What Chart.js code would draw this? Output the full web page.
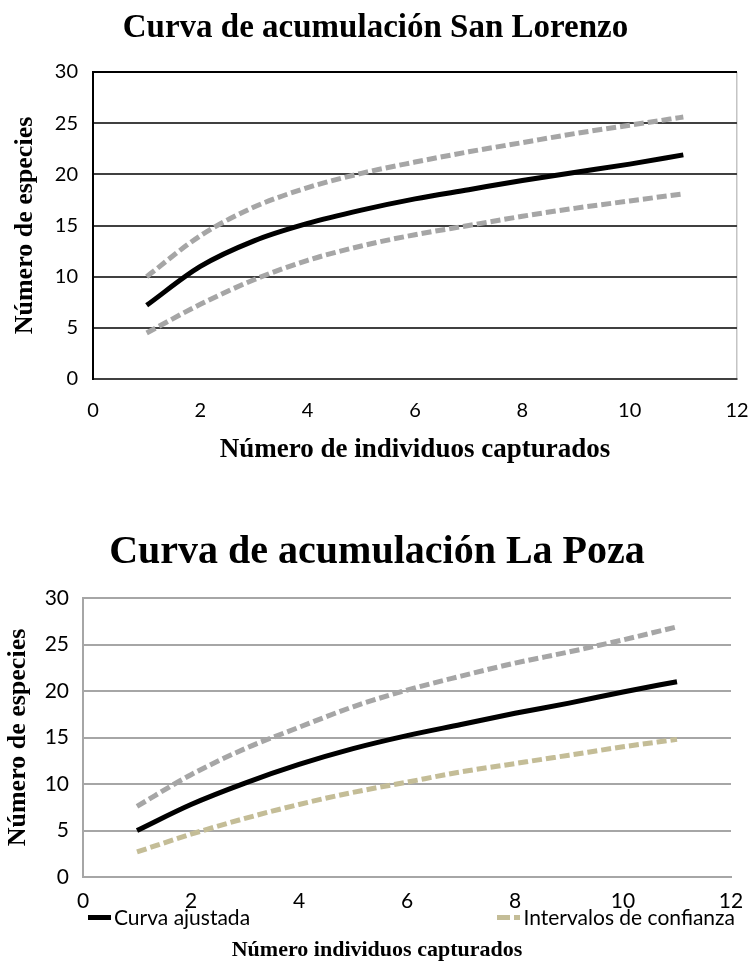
<!DOCTYPE html>
<html lang="es">
<head>
<meta charset="utf-8">
<title>Curvas de acumulación</title>
<script src="https://cdn.jsdelivr.net/npm/chart.js@4.4.1/dist/chart.umd.min.js"></script>
<style>
  body { margin: 0; background: #fff; }
  .page { position: relative; width: 752px; height: 967px; background: #fff; }
  canvas { display: block; }
  #leyenda { position: absolute; left: 88px; top: 904px; width: 647px; display: flex; justify-content: space-between; align-items: center; font: 21px Lato, sans-serif; line-height: 26px; color: #000; }
  #leyenda .item { display: flex; align-items: center; }
  #leyenda .muestra { width: 23px; height: 5px; margin-right: 3px; }
</style>
</head>
<body>
<div class="page">
  <canvas id="chartSanLorenzo" width="752" height="490"></canvas>
  <canvas id="chartLaPoza" width="752" height="477"></canvas>
  <div id="leyenda"></div>
</div>
<script>
// datos
const individuos = [1, 2, 3, 4, 5, 6, 7, 8, 9, 10, 11];

const slAjustada = [7.2, 11.0, 13.5, 15.2, 16.5, 17.6, 18.5, 19.4, 20.2, 21.0, 21.9];
const slSuperior = [10.0, 14.0, 16.8, 18.7, 20.1, 21.2, 22.2, 23.1, 24.0, 24.8, 25.6];
const slInferior = [4.5, 7.3, 9.7, 11.6, 13.0, 14.1, 15.0, 15.9, 16.7, 17.4, 18.1];

const lpAjustada = [5.0, 7.8, 10.1, 12.1, 13.8, 15.2, 16.4, 17.6, 18.7, 19.9, 21.0];
const lpSuperior = [7.6, 11.0, 13.8, 16.1, 18.3, 20.1, 21.6, 23.0, 24.2, 25.5, 26.9];
const lpInferior = [2.7, 4.6, 6.3, 7.8, 9.1, 10.2, 11.3, 12.2, 13.1, 14.0, 14.8];

const leyenda = ['Curva ajustada', 'Intervalos de confianza'];

Chart.defaults.font.family = 'Lato, sans-serif';
Chart.defaults.color = '#000';

const serif = 'Liberation Serif, Times New Roman, serif';

function puntos(valores) {
  return individuos.map((x, i) => ({ x: x, y: valores[i] }));
}

function serie(label, valores, color, dash) {
  return {
    label: label,
    data: puntos(valores),
    borderColor: color,
    backgroundColor: color,
    borderWidth: 5,
    borderDash: dash,
    borderCapStyle: 'butt',
    pointRadius: 0,
    tension: 0.4,
    cubicInterpolationMode: 'monotone'
  };
}

// San Lorenzo
new Chart(document.getElementById('chartSanLorenzo'), {
  type: 'line',
  data: {
    datasets: [
      serie('Intervalo superior', slSuperior, '#a6a6a6', [10, 4]),
      serie('Intervalo inferior', slInferior, '#a6a6a6', [10, 4]),
      serie('Curva ajustada', slAjustada, '#000', [])
    ]
  },
  options: {
    responsive: false,
    animation: false,
    layout: { padding: { left: 14, right: 15, top: 0, bottom: 0 } },
    plugins: {
      legend: { display: false },
      tooltip: { enabled: false },
      title: {
        display: true,
        text: 'Curva de acumulación San Lorenzo',
        font: { family: serif, size: 33, weight: 'bold' },
        color: '#000',
        padding: { top: 8.2, bottom: 24.2 }
      }
    },
    scales: {
      x: {
        type: 'linear',
        min: 0,
        max: 12,
        // separacion con tickLength invisible (ticks.padding ensancha el margen derecho)
        ticks: { stepSize: 2, padding: 0, font: { size: 20 } },
        grid: {
          drawTicks: true,
          tickLength: 20,
          tickColor: 'rgba(0,0,0,0)',
          lineWidth: 1.5,
          color: ctx => ctx.tick && ctx.tick.value === 12 ? '#c4c4c4' : 'rgba(0,0,0,0)'
        },
        border: { display: true, color: '#404040', width: 2 },
        title: {
          display: true,
          text: 'Número de individuos capturados',
          font: { family: serif, size: 27, weight: 'bold' },
          padding: { top: 0, bottom: 23.8 }
        },
        afterFit: scale => { scale.height = 111; }
      },
      y: {
        min: 0,
        max: 30,
        ticks: { stepSize: 5, padding: 15, font: { size: 20 } },
        grid: {
          drawTicks: false,
          lineWidth: 2,
          color: ctx => ctx.tick && ctx.tick.value === 30 ? '#000' : '#404040'
        },
        border: { color: '#000', width: 2 },
        title: {
          display: true,
          text: 'Número de especies',
          font: { family: serif, size: 26, weight: 'bold' },
          padding: { top: -4.6, bottom: 0 }
        },
        afterFit: scale => { scale.width = 79; }
      }
    }
  }
});

// leyenda html (Excel la reparte a lo ancho)
const htmlLegend = {
  id: 'htmlLegend',
  afterUpdate(chart) {
    const box = document.getElementById('leyenda');
    box.innerHTML = '';
    const items = chart.options.plugins.legend.labels.generateLabels(chart)
      .filter(item => leyenda.includes(item.text));
    items.forEach(item => {
      const div = document.createElement('div');
      div.className = 'item';
      const muestra = document.createElement('span');
      muestra.className = 'muestra';
      if (item.lineDash && item.lineDash.length) {
        muestra.style.background = 'repeating-linear-gradient(to right, ' + item.strokeStyle + ' 0 13px, transparent 13px 17px)';
      } else {
        muestra.style.background = item.strokeStyle;
      }
      const texto = document.createElement('span');
      texto.textContent = item.text;
      div.appendChild(muestra);
      div.appendChild(texto);
      box.appendChild(div);
    });
  }
};

// La Poza
new Chart(document.getElementById('chartLaPoza'), {
  type: 'line',
  data: {
    datasets: [
      serie('Curva ajustada', lpAjustada, '#000', []),
      serie('Intervalo superior', lpSuperior, '#a6a6a6', [10, 4]),
      serie('Intervalos de confianza', lpInferior, '#c4bd97', [10, 4])
    ]
  },
  options: {
    responsive: false,
    animation: false,
    layout: { padding: { left: 23, right: 21, top: 0, bottom: 0 } },
    plugins: {
      legend: { display: false },
      tooltip: { enabled: false },
      title: {
        display: true,
        text: 'Curva de acumulación La Poza',
        font: { family: serif, size: 40, weight: 'bold' },
        color: '#000',
        padding: { top: 38.5, bottom: 21.5 }
      },
      subtitle: {
        display: true,
        position: 'bottom',
        text: 'Número individuos capturados',
        font: { family: serif, size: 22, weight: 'bold' },
        color: '#000',
        padding: { top: 0, bottom: 3 }
      }
    },
    scales: {
      x: {
        type: 'linear',
        min: 0,
        max: 12,
        ticks: { stepSize: 2, padding: 4, font: { size: 21 } },
        grid: { display: false },
        border: { display: true, color: '#a6a6a6', width: 2 },
        afterFit: scale => { scale.height = 60.6; }
      },
      y: {
        min: 0,
        max: 30,
        ticks: { stepSize: 5, padding: 14, font: { size: 21 } },
        grid: { drawTicks: false, lineWidth: 2, color: '#a6a6a6' },
        border: { color: '#a6a6a6', width: 2 },
        title: {
          display: true,
          text: 'Número de especies',
          font: { family: serif, size: 26, weight: 'bold' },
          padding: { top: -20.6, bottom: 0 }
        },
        afterFit: scale => { scale.width = 60; }
      }
    }
  },
  plugins: [htmlLegend]
});
</script>
</body>
</html>
